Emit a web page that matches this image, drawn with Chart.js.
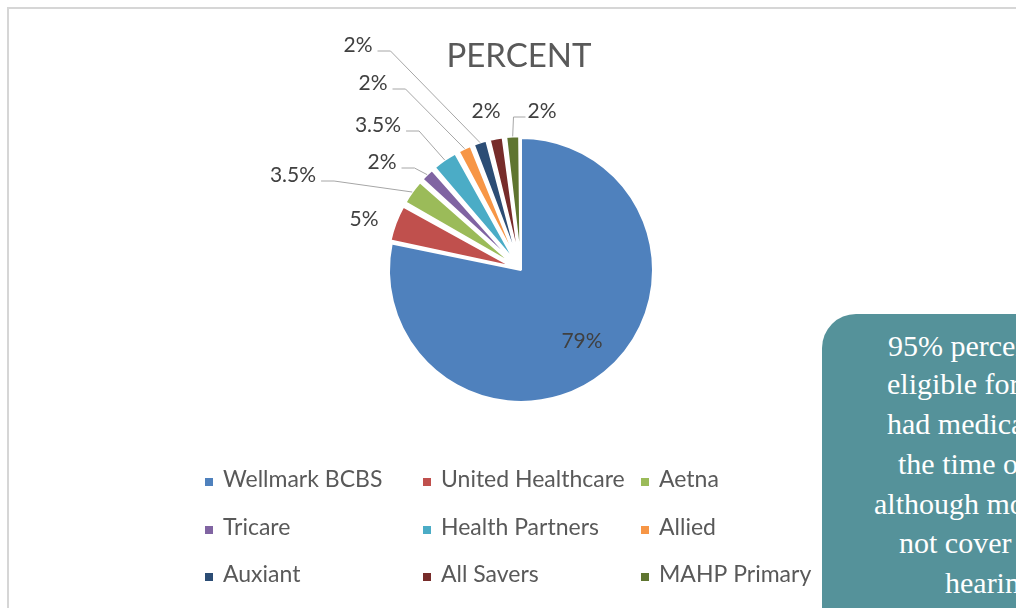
<!DOCTYPE html>
<html><head><meta charset="utf-8">
<script src="https://cdn.jsdelivr.net/npm/chart.js@4.4.1/dist/chart.umd.min.js"></script>
<style>
html,body{margin:0;padding:0;width:1016px;height:608px;overflow:hidden;background:#fff;}
#frame{position:absolute;left:7px;top:7px;width:1100px;height:700px;border-left:2px solid #d6d6d6;border-top:2px solid #d6d6d6;box-sizing:border-box;}
#c{position:absolute;left:0;top:0;}
#note{position:absolute;left:822px;top:314px;width:420px;height:420px;background:#55929a;border-radius:34px;}
.ln{position:absolute;font-family:"Liberation Serif","Times New Roman",serif;font-size:30px;color:#fff;white-space:nowrap;line-height:30px;}
</style></head><body>
<div id="frame"></div>
<canvas id="c" width="1016" height="608"></canvas>
<div id="note"></div>
<div class="ln" style="left:888px;top:331px">95% percent of children</div>
<div class="ln" style="left:887px;top:369px">eligible for the study</div>
<div class="ln" style="left:887px;top:409px">had medical insurance at</div>
<div class="ln" style="left:898px;top:449px">the time of the study,</div>
<div class="ln" style="left:874px;top:489px">although most plans did</div>
<div class="ln" style="left:899px;top:528px">not cover the cost of</div>
<div class="ln" style="left:945px;top:568px">hearing aids.</div>
<script>
// ---- data ----
const categories = ["Wellmark BCBS","United Healthcare","Aetna","Tricare","Health Partners","Allied","Auxiant","All Savers","MAHP Primary"];
const percentValues = [79, 5, 3.5, 2, 3.5, 2, 2, 2, 2];
const chartTitle = "PERCENT";

// ---- styles / layout ----
const sliceColors = ["#4F81BD","#C0504D","#9BBB59","#8064A2","#4BACC6","#F79646","#2C4D75","#772C2A","#5F7530"];
const PIE_RADIUS = 132;
const EXPLODE_PX = 17;
const EXPLODED_RADIUS_RATIO = 0.885;
// label text centres relative to the pie centre
const labelAnchors = [[61,71],[-157,-51],[-228,-95],[-139,-108],[-143,-145],[-148,-187],[-163,-225],[-35,-159],[21,-159]];
const labelLeader = [false,false,true,true,true,true,true,false,true];
const legendCols = [205, 423, 641];
const legendRows = [487, 535, 582];
const TEXT_FONT = 'Lato, "Open Sans", sans-serif';

const total = percentValues.reduce((a,b)=>a+b,0);

function sliceOffset(ctx){
  if (ctx.dataIndex == null || ctx.dataIndex === 0) return 0;
  const circ = percentValues[ctx.dataIndex] / total * Math.PI * 2;
  return 4 * EXPLODE_PX / (2 - Math.sin(Math.min(Math.PI, circ)));
}

const shrinkPlugin = {
  id: 'shrinkExploded',
  afterDatasetUpdate(chart, args){
    args.meta.data.forEach((arc, i) => {
      if (i > 0) arc.outerRadius = PIE_RADIUS * EXPLODED_RADIUS_RATIO;
    });
  }
};

const decorPlugin = {
  id: 'decor',
  afterDatasetsDraw(chart){
    const ctx = chart.ctx;
    const meta = chart.getDatasetMeta(0);
    const cx = meta.data[0].x, cy = meta.data[0].y;
    // title
    ctx.save();
    ctx.fillStyle = '#595959';
    ctx.font = '33px ' + TEXT_FONT;
    ctx.textAlign = 'center';
    ctx.textBaseline = 'alphabetic';
    ctx.fillText(chartTitle, cx - 2, 67);
    ctx.restore();
    // data labels
    meta.data.forEach((arc, i) => {
      const txt = percentValues[i] + '%';
      const tx = cx + labelAnchors[i][0], ty = cy + labelAnchors[i][1];
      ctx.save();
      ctx.font = '21px ' + TEXT_FONT;
      const w = ctx.measureText(txt).width;
      if (labelLeader[i]) {
        const mid = (arc.startAngle + arc.endAngle) / 2;
        const circ = arc.endAngle - arc.startAngle;
        const off = (arc.options.offset || 0) / 4;
        const shift = off * (2 - Math.sin(Math.min(Math.PI, circ)));
        const ex = arc.x + Math.cos(mid) * (shift + arc.outerRadius);
        const ey = arc.y + Math.sin(mid) * (shift + arc.outerRadius);
        let sx, hx;
        if (tx < ex) { sx = tx + w/2 + 5; hx = sx + 13; }
        else { sx = tx - w/2 - 2; hx = sx - 12; }
        const sy = ty + 6;
        ctx.strokeStyle = '#a6a6a6';
        ctx.lineWidth = 1;
        ctx.beginPath();
        ctx.moveTo(sx, sy); ctx.lineTo(hx, sy); ctx.lineTo(ex, ey);
        ctx.stroke();
      }
      ctx.fillStyle = '#404040';
      ctx.textAlign = 'center';
      ctx.textBaseline = 'middle';
      ctx.fillText(txt, tx, ty);
      ctx.restore();
    });
    // legend
    ctx.save();
    ctx.font = '23px ' + TEXT_FONT;
    ctx.textBaseline = 'alphabetic';
    ctx.textAlign = 'left';
    categories.forEach((name, i) => {
      const x = legendCols[i % 3], y = legendRows[Math.floor(i / 3)];
      ctx.fillStyle = sliceColors[i];
      ctx.fillRect(x, y - 9, 8, 8);
      ctx.fillStyle = '#595959';
      ctx.fillText(name, x + 18, y);
    });
    ctx.restore();
  }
};

new Chart(document.getElementById('c'), {
  type: 'pie',
  data: {
    labels: categories,
    datasets: [{
      data: percentValues,
      backgroundColor: sliceColors,
      borderColor: '#ffffff',
      borderWidth: 2,
      offset: sliceOffset,
      radius: PIE_RADIUS,
      clip: false
    }]
  },
  options: {
    responsive: false,
    animation: false,
    devicePixelRatio: 1,
    layout: { padding: { left: 250, right: 224, top: 30, bottom: 98 } },
    plugins: { legend: { display: false }, tooltip: { enabled: false }, title: { display: false } }
  },
  plugins: [shrinkPlugin, decorPlugin]
});
</script>
</body></html>
